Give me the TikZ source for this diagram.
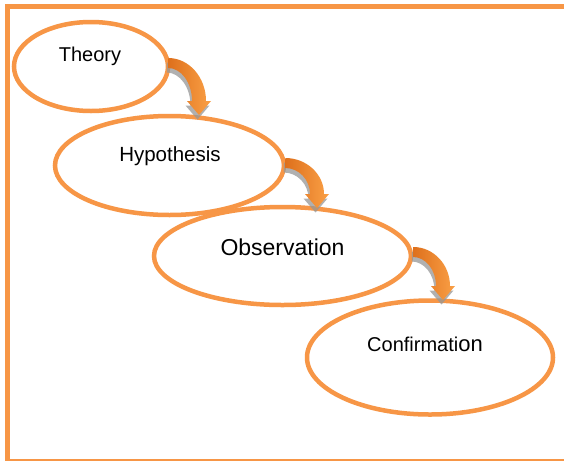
\documentclass[tikz,border=0pt]{standalone}
\usepackage{fontspec}
\setmainfont{Liberation Sans}
\usetikzlibrary{calc,shapes.geometric}

\definecolor{ringOrange}{RGB}{247,150,70}
\definecolor{arrowDark}{RGB}{222,112,28}
\definecolor{arrowLight}{RGB}{250,160,70}
\definecolor{shadowGrey}{RGB}{150,150,150}

% Curved block arrow: #1 = path options, #2 = top-left start, #3 = tip
\newcommand\bentarrow[3]{%
  \path[#1] let \p1=(#2), \p2=(#3) in
    (\x1,\y1)
      .. controls ({\x1+0.55*(\x2+7pt-\x1)},\y1)
              and ({\x2+7pt},{\y2+14pt+0.55*(\y1-\y2-14pt)}) ..
    ({\x2+7pt},{\y2+14pt})
    -- ({\x2+12pt},{\y2+14pt}) -- (\x2,\y2) -- ({\x2-12pt},{\y2+14pt})
    -- ({\x2-7pt},{\y2+14pt})
      .. controls ({\x2-7pt},{\y2+14pt+0.55*(\y1-10pt-\y2-14pt)})
              and ({\x1+0.55*(\x2-7pt-\x1)},{\y1-10pt}) ..
    (\x1,{\y1-10pt}) -- cycle;}

\begin{document}
\begin{tikzpicture}[x=1pt,y=-1pt,
  stage/.style={draw=ringOrange, line width=4.5pt, ellipse, fill=white, inner sep=0pt},
  caption/.style={anchor=base, inner sep=0pt, text=black},
  arrowbody/.style={left color=arrowDark, right color=arrowLight},
  arrowshadow/.style={fill=shadowGrey, fill opacity=0.75,
    transform canvas={shift={(-1.5pt,-4.5pt)}}},
  frameline/.style={draw=ringOrange}]

\useasboundingbox (0,0) rectangle (564,461);
\fill[white] (0,0) rectangle (564,461);

% border
\draw[frameline, line width=5pt] (564,6.5) -- (7.5,6.5) -- (7.5,461);
\draw[frameline, line width=1.5pt] (10,460.2) -- (564,460.2);

% the four stages
\node[stage, minimum width=154pt, minimum height=89pt]  (theory) at (91,66.5) {};
\node[stage, minimum width=229pt, minimum height=99pt]  (hyp)    at (169.5,165.5) {};
\node[stage, minimum width=257pt, minimum height=98pt]  (obs)    at (282.5,256) {};
\node[stage, minimum width=246pt, minimum height=114pt] (conf)   at (430,357.5) {};

\node[caption, font=\fontsize{20}{24}\selectfont] (theoryText) at (90,61) {Theory};
\node[caption, font=\fontsize{20.5}{24}\selectfont] (hypText) at (170,161.5) {Hypothesis};
\node[caption, font=\fontsize{23}{27}\selectfont] (obsText) at (282.5,255.5) {Observation};
\node[caption] (confText) at (425,351.5)
  {{\fontsize{20}{24}\selectfont Confirmati}{\fontsize{22}{24}\selectfont on}};

% arrow ends
\coordinate (a1s) at ($(theory.east)+(-2,-8.5)$);
\coordinate (a1t) at ($(hyp.center)+(29.5,-50.5)$);
\coordinate (a2s) at ($(hyp.east)+(-1,-7.5)$);
\coordinate (a2t) at ($(obs.center)+(34.5,-48)$);
\coordinate (a3s) at ($(obs.east)+(0,-9)$);
\coordinate (a3t) at ($(conf.center)+(13,-57.5)$);

% shadows, then arrows
\bentarrow{arrowshadow}{a1s}{a1t}
\bentarrow{arrowshadow}{a2s}{a2t}
\bentarrow{arrowshadow}{a3s}{a3t}
\bentarrow{arrowbody}{a1s}{a1t}
\bentarrow{arrowbody}{a2s}{a2t}
\bentarrow{arrowbody}{a3s}{a3t}
\end{tikzpicture}
\end{document}
